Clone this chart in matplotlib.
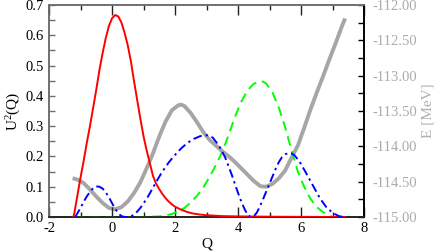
import matplotlib
matplotlib.use("Agg")
import matplotlib.pyplot as plt
from matplotlib.ticker import MultipleLocator, FormatStrFormatter

plt.rcParams['font.family'] = ['Liberation Serif', 'DejaVu Serif']
plt.rcParams['mathtext.fontset'] = 'custom'
plt.rcParams['mathtext.rm'] = 'Liberation Serif'
plt.rcParams['mathtext.it'] = 'Liberation Serif:italic'
plt.rcParams['axes.unicode_minus'] = False

# ---- data ----
red_q = [-1.23, -1.2, -1.1, -1.0, -0.9, -0.8, -0.7, -0.6, -0.5, -0.4, -0.3, -0.2, -0.1,
         0.0, 0.1, 0.2, 0.3, 0.4, 0.5, 0.6, 0.7, 0.8, 0.9, 1.0, 1.1, 1.2, 1.3, 1.4, 1.5,
         1.6, 1.7, 1.8, 1.9, 2.0, 2.2, 2.4, 2.6, 2.8, 3.0, 3.5, 4.0, 5.0, 6.0, 7.0, 7.4]
red_u = [0.0, 0.01, 0.07, 0.13, 0.185, 0.245, 0.30, 0.36, 0.42, 0.485, 0.54, 0.59, 0.63,
         0.656, 0.667, 0.662, 0.642, 0.608, 0.567, 0.514, 0.448, 0.386, 0.325, 0.267, 0.22,
         0.178, 0.136, 0.11, 0.092, 0.076, 0.062, 0.051, 0.042, 0.034, 0.024, 0.016, 0.011,
         0.008, 0.006, 0.003, 0.002, 0.001, 0.0005, 0.0, 0.0]

green_q = [-1.2, 0.0, 1.0, 1.5, 1.7, 1.9, 2.1, 2.3, 2.5, 2.7, 2.9, 3.1, 3.3, 3.5, 3.7, 3.9,
           4.1, 4.3, 4.5, 4.7, 4.8, 4.9, 5.1, 5.3, 5.5, 5.7, 5.9, 6.1, 6.3, 6.5, 6.7, 6.9, 7.0]
green_u = [0.0, 0.0, 0.0, 0.002, 0.005, 0.01, 0.018, 0.03, 0.048, 0.07, 0.098, 0.133, 0.172,
           0.215, 0.27, 0.33, 0.38, 0.418, 0.44, 0.448, 0.447, 0.44, 0.41, 0.36, 0.295, 0.22,
           0.15, 0.1, 0.06, 0.033, 0.016, 0.005, 0.0]

blue_q = [-1.17, -1.1, -1.0, -0.9, -0.8, -0.7, -0.6, -0.5, -0.4, -0.3, -0.2, -0.1, 0.0, 0.1,
          0.2, 0.3, 0.4, 0.5, 0.6, 0.7, 0.8, 0.9, 1.0, 1.1, 1.2, 1.3, 1.4, 1.5, 1.6, 1.8, 2.0,
          2.2, 2.4, 2.6, 2.8, 3.0, 3.1, 3.2, 3.4, 3.6, 3.8, 4.0, 4.1, 4.2, 4.3, 4.4, 4.5, 4.6,
          4.7, 4.8, 4.9, 5.0, 5.1, 5.2, 5.3, 5.4, 5.5, 5.6, 5.7, 5.8, 5.9, 6.0, 6.2, 6.4, 6.6,
          6.8, 7.0, 7.2, 7.35]
blue_u = [0.0, 0.012, 0.03, 0.05, 0.068, 0.083, 0.095, 0.101, 0.10, 0.094, 0.082, 0.065,
          0.046, 0.027, 0.012, 0.003, 0.0, 0.0, 0.002, 0.008, 0.018, 0.03, 0.045, 0.06, 0.078,
          0.097, 0.115, 0.133, 0.15, 0.18, 0.205, 0.227, 0.245, 0.258, 0.267, 0.27, 0.268,
          0.262, 0.235, 0.195, 0.14, 0.08, 0.052, 0.028, 0.008, 0.0, 0.002, 0.015, 0.036, 0.06,
          0.085, 0.11, 0.135, 0.16, 0.182, 0.198, 0.207, 0.211, 0.21, 0.203, 0.19, 0.175,
          0.138, 0.1, 0.062, 0.033, 0.014, 0.003, 0.0]

gray_q = [-1.25, -1.1, -0.9, -0.7, -0.5, -0.3, -0.1, 0.0, 0.1, 0.3, 0.5, 0.7, 0.9, 1.1, 1.3,
          1.5, 1.7, 1.9, 2.1, 2.2, 2.3, 2.5, 2.7, 2.9, 3.1, 3.3, 3.5, 3.7, 3.9, 4.1, 4.3, 4.5,
          4.7, 4.8, 4.9, 5.1, 5.3, 5.5, 5.7, 5.9, 6.1, 6.3, 6.5, 6.7, 6.9, 7.1, 7.3, 7.4]
gray_e = [-114.45, -114.47, -114.52, -114.61, -114.71, -114.80, -114.87, -114.88, -114.89,
          -114.86, -114.78, -114.66, -114.51, -114.31, -114.10, -113.86, -113.65, -113.49,
          -113.42, -113.41, -113.43, -113.53, -113.66, -113.80, -113.91, -113.99, -114.07,
          -114.14, -114.22, -114.31, -114.40, -114.49, -114.56, -114.57, -114.57, -114.53,
          -114.45, -114.34, -114.16, -113.99, -113.74, -113.48, -113.24, -113.01, -112.77,
          -112.54, -112.30, -112.19]

fig = plt.figure(figsize=(4.36, 2.52), dpi=100)
ax = fig.add_axes([49/436, 1-217/252, (364-49)/436, (217-5)/252])
ax2 = ax.twinx()

ax2.plot(gray_q, gray_e, color='#a6a6a6', lw=2.8, solid_capstyle='butt',
         solid_joinstyle='round', zorder=1)
ax2.set_ylim(-115, -112)

ax.set_zorder(ax2.get_zorder() + 1)
ax.patch.set_visible(False)
ax.plot(red_q, red_u, color='#ff0000', lw=1.4, zorder=3)
ax.plot(green_q, green_u, color='#00ff00', lw=1.4, dashes=(5, 3), zorder=2)
ax.plot(blue_q, blue_u, color='#0000ff', lw=1.4, dashes=(4.5, 2, 1.2, 2), zorder=4)

ax.set_xlim(-2, 8)
ax.set_ylim(0, 0.7)
ax.xaxis.set_major_locator(MultipleLocator(2))
ax.xaxis.set_minor_locator(MultipleLocator(1))
ax.yaxis.set_major_locator(MultipleLocator(0.1))
ax.yaxis.set_minor_locator(MultipleLocator(0.05))
ax.yaxis.set_major_formatter(FormatStrFormatter('%.1f'))
ax.tick_params(which='both', direction='in', top=True, right=False, labelsize=10.5,
               colors='#222222', labelcolor='black')
ax.tick_params(which='major', length=7, width=1)
ax.tick_params(which='minor', length=3.5, width=1)
ax.tick_params(axis='y', which='both', length=4.5, color='#707070')

ax2.yaxis.set_major_locator(MultipleLocator(0.5))
ax2.yaxis.set_minor_locator(MultipleLocator(0.25))
ax2.yaxis.set_major_formatter(FormatStrFormatter('%.2f'))
ax2.tick_params(which='both', direction='in', length=4.5, width=1, colors='black',
                labelcolor='#ababab', labelsize=10.5, pad=6)

for a in (ax, ax2):
    a.spines['left'].set_color('#707070')
    a.spines['top'].set_color('#707070')
    a.spines['bottom'].set_color('#222222')
    a.spines['right'].set_color('black')
    for s in a.spines.values():
        s.set_linewidth(1.2)

ax.set_xlabel('Q', fontsize=11, labelpad=2)
ax.set_ylabel(r'U$^{2}$(Q)', fontsize=11, labelpad=2)
ax2.set_ylabel('E [MeV]', fontsize=11, color='#b0b0b0', labelpad=3)

fig.savefig('out.png', dpi=100)
